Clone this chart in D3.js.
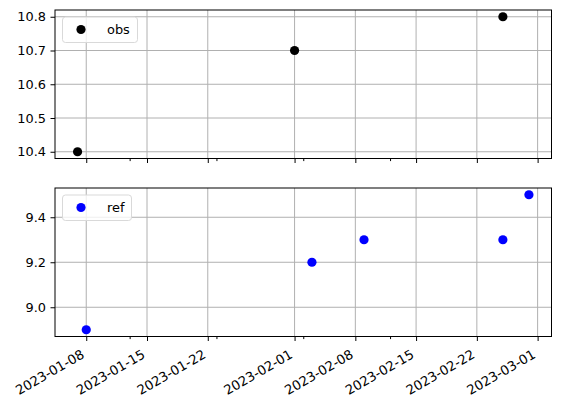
<!DOCTYPE html>
<html><head><meta charset="utf-8">
<script src="https://cdn.jsdelivr.net/npm/d3@7"></script>
<style>body{margin:0;background:#fff}svg{display:block}text{font-family:"DejaVu Sans",sans-serif}</style>
</head><body><svg id="c" width="561" height="408"></svg>
<script>
const obsDates = ["2023-01-07","2023-02-01","2023-02-25"];
const obsValues = [10.4, 10.7, 10.8];
const refDates = ["2023-01-08","2023-02-03","2023-02-09","2023-02-25","2023-02-28"];
const refValues = [8.9, 9.2, 9.3, 9.3, 9.5];
const xMajorTicks = ["2023-01-08","2023-01-15","2023-01-22","2023-02-01","2023-02-08","2023-02-15","2023-02-22","2023-03-01"];
const xMinorTicks = ["2023-01-13","2023-01-23","2023-02-02","2023-02-12"];
const obsYTicks = [10.4, 10.5, 10.6, 10.7, 10.8];
const refYTicks = [9.0, 9.2, 9.4];

const parse = d3.utcParse("%Y-%m-%d");
const fmt = d3.utcFormat("%Y-%m-%d");
const svg = d3.select("#c");
const L = 55, R = 551.5, FS = 12.9, XFS = 13.2;
const allDates = obsDates.concat(refDates).map(parse);
const [dmin, dmax] = d3.extent(allDates);
const span = dmax - dmin;
const x = d3.scaleUtc().domain([new Date(+dmin - 0.05*span), new Date(+dmax + 0.05*span)]).range([L, R]);

function panel(top, h, dates, values, yticks, color, label, showX) {
  const [vmin, vmax] = d3.extent(values);
  const m = (vmax - vmin) * 0.05;
  const y = d3.scaleLinear().domain([vmin - m, vmax + m]).range([top + h, top]);
  const g = svg.append("g");
  g.selectAll(".gx").data(xMajorTicks).join("line")
    .attr("x1", d => x(parse(d))).attr("x2", d => x(parse(d)))
    .attr("y1", top).attr("y2", top + h).attr("stroke", "#b0b0b0").attr("stroke-width", 1);
  g.selectAll(".gy").data(yticks).join("line")
    .attr("x1", L).attr("x2", R).attr("y1", d => y(d)).attr("y2", d => y(d))
    .attr("stroke", "#b0b0b0").attr("stroke-width", 1);
  g.selectAll("circle.p").data(dates.map((d, i) => [parse(d), values[i]])).join("circle")
    .attr("cx", d => x(d[0])).attr("cy", d => y(d[1])).attr("r", 4.6).attr("fill", color);
  const xa = d3.axisBottom(x).tickValues(xMajorTicks.map(parse)).tickSize(4.5).tickPadding(4)
    .tickFormat(showX ? fmt : () => "");
  const xg = g.append("g").attr("transform", `translate(0,${top + h})`).call(xa);
  const xm = d3.axisBottom(x).tickValues(xMinorTicks.map(parse)).tickSize(2.6).tickFormat(() => "");
  g.append("g").attr("transform", `translate(0,${top + h})`).call(xm).select(".domain").remove();
  const ya = d3.axisLeft(y).tickValues(yticks).tickSize(4.5).tickPadding(4.5).tickFormat(d3.format(".1f"));
  const yg = g.append("g").attr("transform", `translate(${L},0)`).call(ya);
  [xg, yg].forEach(a => {
    a.select(".domain").remove();
    a.selectAll("text").attr("font-size", FS).attr("fill", "#000").attr("font-family", "DejaVu Sans");
    a.selectAll("line").attr("stroke", "#000").attr("stroke-width", 1);
  });
  g.selectAll(".tick line").attr("stroke", "#000");
  if (showX) {
    xg.selectAll("text").attr("text-anchor", "end").attr("dy", null).attr("font-size", XFS)
      .attr("transform", "translate(-1.5,20.5) rotate(-30)")
      .attr("y", 0).attr("x", 0);
  }
  g.append("rect").attr("x", L).attr("y", top).attr("width", R - L).attr("height", h)
    .attr("fill", "none").attr("stroke", "#000").attr("stroke-width", 1);
  const lw = label === "obs" ? 75 : 69;
  const lg = g.append("g");
  lg.append("rect").attr("x", 62.5).attr("y", top + 7).attr("width", lw).attr("height", 25.5).attr("rx", 3)
    .attr("fill", "#fff").attr("fill-opacity", 0.8).attr("stroke", "#d9d9d9").attr("stroke-width", 1);
  lg.append("circle").attr("cx", 81).attr("cy", top + 19.5).attr("r", 4.6).attr("fill", color);
  lg.append("text").attr("x", 107).attr("y", top + 19.5).attr("dy", "0.35em").attr("font-size", FS).attr("fill", "#000").text(label);
}
panel(10, 148.5, obsDates, obsValues, obsYTicks, "#000", "obs", false);
panel(188, 148.5, refDates, refValues, refYTicks, "#0000ff", "ref", true);
</script></body></html>
